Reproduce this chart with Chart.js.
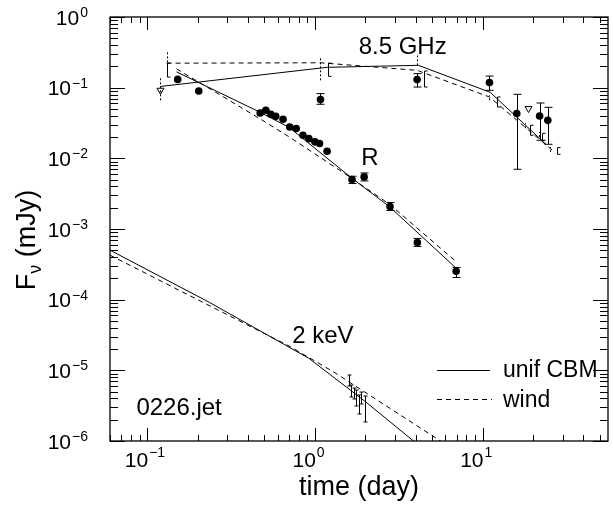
<!DOCTYPE html>
<html>
<head>
<meta charset="utf-8">
<script src="https://cdn.jsdelivr.net/npm/chart.js@4.4.0/dist/chart.umd.min.js"></script>
<style>
  html, body { margin: 0; padding: 0; background: #fff; }
  #wrap { width: 613px; height: 508px; }
</style>
</head>
<body>
<div id="wrap"><canvas id="lc" width="613" height="508"></canvas></div>
<script>
// R band detections (time in days, flux in mJy)
const rT  = [0.152, 0.203, 0.472, 0.510, 0.546, 0.584, 0.646, 0.708, 0.774, 0.849, 0.921, 1.00, 1.066, 1.183, 1.665, 1.967, 2.806, 4.086, 6.96];
const rF  = [0.131, 0.0896, 0.0438, 0.0479, 0.0420, 0.0393, 0.0357, 0.0278, 0.0264, 0.0212, 0.0190, 0.0171, 0.0162, 0.0126, 0.00501, 0.00546, 0.00208, 0.000645, 0.000253];
const rLo = [null, null, null, null, null, null, null, null, null, null, null, null, null, null, 0.00440, 0.00479, 0.00183, 0.000567, 0.000206];
const rHi = [null, null, null, null, null, null, null, null, null, null, null, null, null, null, 0.00558, 0.00621, 0.00237, 0.000735, 0.000286];

// 8.5 GHz detections and upper limits
const radioT  = [1.08, 4.07, 11.0, 16.0, 21.9, 24.5];
const radioF  = [0.0678, 0.130, 0.118, 0.043, 0.0397, 0.0345];
const radioLo = [0.0582, 0.102, 0.0917, 0.0070, 0.018, 0.0158];
const radioHi = [0.0824, 0.158, 0.146, 0.0805, 0.0607, 0.0527];
const limT = [0.120, 18.8];
const limF = [0.092, 0.0506];

// 2 keV X-ray bins (no markers, bars only)
const xrT  = [1.60, 1.637, 1.704, 1.751, 1.824, 1.883, 1.980];
const xrLo = [6.0e-6, 4.19e-6, 3.93e-6, 3.13e-6, 2.41e-6, 3.34e-6, 1.86e-6];
const xrHi = [8.59e-6, 6.19e-6, 5.62e-6, 5.27e-6, 4.48e-6, 4.93e-6, 4.33e-6];

// model curves: uniform CBM (solid) and wind (dashed)
const rCbmT  = [0.1496, 0.465, 0.701, 1.635, 2.786, 6.96];
const rCbmF  = [0.1675, 0.0456, 0.0275, 0.0054, 0.00207, 0.000279];
const rWindT = [0.1496, 0.465, 0.701, 1.591, 2.786, 6.96];
const rWindF = [0.1846, 0.0369, 0.0202, 0.00558, 0.00224, 0.000345];

const radioCbmT  = [0.120, 1.18, 4.14, 11.1, 23.9];
const radioCbmF  = [0.104, 0.194, 0.207, 0.086, 0.0158];
const radioWindT = [0.1305, 1.08, 4.07, 11.0, 26.8];
const radioWindF = [0.222, 0.225, 0.176, 0.0738, 0.0123];

const xCbmT  = [0.06, 0.235, 0.921, 1.98, 5.0];
const xCbmF  = [5.02e-4, 9.15e-5, 1.48e-5, 3.68e-6, 6.1e-7];
const xWindT = [0.06, 0.701, 1.297, 6.24];
const xWindF = [4.26e-4, 2.21e-5, 9.47e-6, 8.5e-7];

// scintillation ranges drawn on the radio models
const scCbmT  = [0.1306, 1.199, 4.48, 12.2, 19.1, 22.6, 27.7];
const scCbmLo = [0.141, 0.1446, 0.102, 0.0532, 0.0212, 0.018, 0.0114];
const scCbmHi = [0.223, 0.223, 0.172, 0.0738, 0.0294, 0.0226, 0.0142];
const scWindT  = [0.120, 0.1306, 1.08, 4.07, 11.0, 17.8, 21.6, 25.4];
const scWindLo = [0.0662, 0.228, 0.127, 0.207, 0.0662, 0.0266, 0.0200, 0.0123];
const scWindHi = [0.139, 0.316, 0.271, 0.286, 0.078, 0.0313, 0.0236, 0.0145];

// text placed in data coordinates (left edge, baseline)
const notes = [
  { text: '8.5 GHz', t: 1.824, f: 0.303 },
  { text: 'R', t: 1.893, f: 0.00798 },
  { text: '2 keV', t: 0.733, f: 2.41e-5 },
  { text: '0226.jet', t: 0.0862, f: 2.33e-6 }
];

const FONT = '"Liberation Sans", Arial, Helvetica, sans-serif';
const pts = (xs, ys) => xs.map((x, i) => ({ x, y: ys[i] }));

function modelLine(label, t, f, dashed) {
  return {
    label, data: pts(t, f), showLine: true, pointRadius: 0,
    borderColor: '#000', borderWidth: 1, borderDash: dashed ? [5, 4] : [],
    fill: false, tension: 0
  };
}

function bars(label, t, lo, hi, dashed, cap) {
  return {
    label, data: pts(t, lo), pointRadius: 0, showLine: false,
    errLo: lo, errHi: hi, errDash: dashed ? [2, 2] : [], errCap: cap
  };
}

// draws the vertical error / range bars
const errorBars = {
  id: 'errorBars',
  afterDatasetsDraw(chart) {
    const ctx = chart.ctx, xs = chart.scales.x, ys = chart.scales.y;
    ctx.save();
    ctx.strokeStyle = '#000';
    ctx.lineWidth = 1;
    chart.data.datasets.forEach(ds => {
      if (!ds.errLo) return;
      ctx.setLineDash(ds.errDash);
      ds.data.forEach((p, i) => {
        if (ds.errLo[i] == null) return;
        const x = Math.round(xs.getPixelForValue(p.x)) + 0.5;
        const y1 = ys.getPixelForValue(ds.errLo[i]);
        const y2 = ys.getPixelForValue(ds.errHi[i]);
        ctx.beginPath();
        ctx.moveTo(x, y1);
        ctx.lineTo(x, y2);
        const c = ds.errCap;
        if (c > 0) {
          ctx.moveTo(x - c, y1); ctx.lineTo(x + c, y1);
          ctx.moveTo(x - c, y2); ctx.lineTo(x + c, y2);
        } else if (c < 0) {
          ctx.moveTo(x, y1); ctx.lineTo(x - c, y1);
          ctx.moveTo(x, y2); ctx.lineTo(x - c, y2);
        }
        ctx.stroke();
      });
    });
    ctx.restore();
  }
};

// frame with inward ticks on all sides, tick labels, titles, notes, legend
const frame = {
  id: 'frame',
  afterDraw(chart) {
    const ctx = chart.ctx, a = chart.chartArea;
    const xs = chart.scales.x, ys = chart.scales.y;
    ctx.save();
    ctx.strokeStyle = '#000';
    ctx.fillStyle = '#000';
    ctx.lineWidth = 1.3;
    ctx.setLineDash([]);
    ctx.strokeRect(a.left, a.top, a.right - a.left, a.bottom - a.top);

    ctx.lineWidth = 1;
    ctx.beginPath();
    for (let k = -2; k <= 1; k++) {
      for (let m = 1; m <= 9; m++) {
        const v = m * Math.pow(10, k);
        if (v < xs.min || v > xs.max) continue;
        const x = Math.round(xs.getPixelForValue(v)) + 0.5;
        const len = m === 1 ? 13 : 6;
        ctx.moveTo(x, a.bottom); ctx.lineTo(x, a.bottom - len);
        ctx.moveTo(x, a.top); ctx.lineTo(x, a.top + len);
      }
    }
    for (let k = -6; k <= 0; k++) {
      for (let m = 1; m <= 9; m++) {
        const v = m * Math.pow(10, k);
        if (v < ys.min || v > ys.max) continue;
        const y = Math.round(ys.getPixelForValue(v)) + 0.5;
        const len = m === 1 ? 15 : 8;
        ctx.moveTo(a.left, y); ctx.lineTo(a.left + len, y);
        ctx.moveTo(a.right, y); ctx.lineTo(a.right - len, y);
      }
    }
    ctx.stroke();

    // x tick labels: 10 with exponent
    ctx.textBaseline = 'alphabetic';
    [-1, 0, 1].forEach(e => {
      const x = xs.getPixelForValue(Math.pow(10, e));
      ctx.font = '21px ' + FONT;
      ctx.textAlign = 'right';
      ctx.fillText('10', x + 1, a.bottom + 26);
      ctx.font = '14px ' + FONT;
      ctx.textAlign = 'left';
      ctx.fillText(e < 0 ? '\u2212' + (-e) : String(e), x + 2, a.bottom + 16);
    });

    // y tick labels
    for (let e = -6; e <= 0; e++) {
      const y = ys.getPixelForValue(Math.pow(10, e));
      const sup = e < 0 ? '\u2212' + (-e) : String(e);
      ctx.font = '14px ' + FONT;
      const w = ctx.measureText(sup).width;
      const right = 88;
      ctx.textAlign = 'left';
      ctx.fillText(sup, right - w, y);
      ctx.font = '21px ' + FONT;
      ctx.textAlign = 'right';
      ctx.fillText('10', right - w - 1, y + 7.5);
    }

    // axis titles
    ctx.font = '27px ' + FONT;
    ctx.textAlign = 'center';
    ctx.fillText('time (day)', (a.left + a.right) / 2, 495);

    ctx.save();
    ctx.translate(35, 240);
    ctx.rotate(-Math.PI / 2);
    ctx.font = '27px ' + FONT;
    const wF = ctx.measureText('F').width;
    ctx.font = '18px ' + FONT;
    const wNu = ctx.measureText('\u03bd').width;
    ctx.font = '27px ' + FONT;
    const wRest = ctx.measureText(' (mJy)').width;
    let x0 = -(wF + wNu + wRest) / 2;
    ctx.textAlign = 'left';
    ctx.fillText('F', x0, 0);
    ctx.font = '18px ' + FONT;
    ctx.fillText('\u03bd', x0 + wF, 6);
    ctx.font = '27px ' + FONT;
    ctx.fillText(' (mJy)', x0 + wF + wNu, 0);
    ctx.restore();

    // notes
    ctx.font = '24px ' + FONT;
    ctx.textAlign = 'left';
    notes.forEach(n => {
      ctx.fillText(n.text, xs.getPixelForValue(n.t), ys.getPixelForValue(n.f));
    });

    // legend
    ctx.lineWidth = 1;
    ctx.beginPath();
    ctx.moveTo(437, 370.5); ctx.lineTo(490, 370.5);
    ctx.stroke();
    ctx.setLineDash([5, 4]);
    ctx.beginPath();
    ctx.moveTo(437, 399.5); ctx.lineTo(492, 399.5);
    ctx.stroke();
    ctx.setLineDash([]);
    ctx.font = '23px ' + FONT;
    ctx.fillText('unif CBM', 503, 377);
    ctx.fillText('wind', 503, 406.5);
    ctx.restore();
  }
};

const datasets = [
  {
    label: 'R', data: pts(rT, rF), pointStyle: 'circle', pointRadius: 3.8,
    backgroundColor: '#000', borderColor: '#000', borderWidth: 0,
    errLo: rLo, errHi: rHi, errDash: [], errCap: 4
  },
  {
    label: '8.5 GHz', data: pts(radioT, radioF), pointStyle: 'circle', pointRadius: 3.8,
    backgroundColor: '#000', borderColor: '#000', borderWidth: 0,
    errLo: radioLo, errHi: radioHi, errDash: [], errCap: 4
  },
  {
    label: '8.5 GHz limits', data: pts(limT, limF), pointStyle: 'triangle', rotation: 180,
    pointRadius: 4, backgroundColor: '#fff', borderColor: '#000', borderWidth: 1
  },
  bars('2 keV', xrT, xrLo, xrHi, false, 2),
  modelLine('R cbm', rCbmT, rCbmF, false),
  modelLine('R wind', rWindT, rWindF, true),
  modelLine('radio cbm', radioCbmT, radioCbmF, false),
  modelLine('radio wind', radioWindT, radioWindF, true),
  modelLine('x cbm', xCbmT, xCbmF, false),
  modelLine('x wind', xWindT, xWindF, true),
  bars('scint cbm', scCbmT, scCbmLo, scCbmHi, false, -3),
  bars('scint wind', scWindT, scWindLo, scWindHi, true, 0)
];

new Chart(document.getElementById('lc'), {
  type: 'scatter',
  data: { datasets },
  options: {
    responsive: false,
    animation: false,
    devicePixelRatio: 1,
    layout: { padding: { top: 17, right: 2, left: 0, bottom: 0 } },
    plugins: { legend: { display: false }, tooltip: { enabled: false } },
    scales: {
      x: {
        type: 'logarithmic', min: 0.06, max: 56,
        ticks: { display: false }, grid: { display: false }, border: { display: false },
        afterFit: s => { s.height = 67; }
      },
      y: {
        type: 'logarithmic', min: 1e-6, max: 1,
        ticks: { display: false }, grid: { display: false }, border: { display: false },
        afterFit: s => { s.width = 110; }
      }
    }
  },
  plugins: [errorBars, frame]
});
</script>
</body>
</html>
